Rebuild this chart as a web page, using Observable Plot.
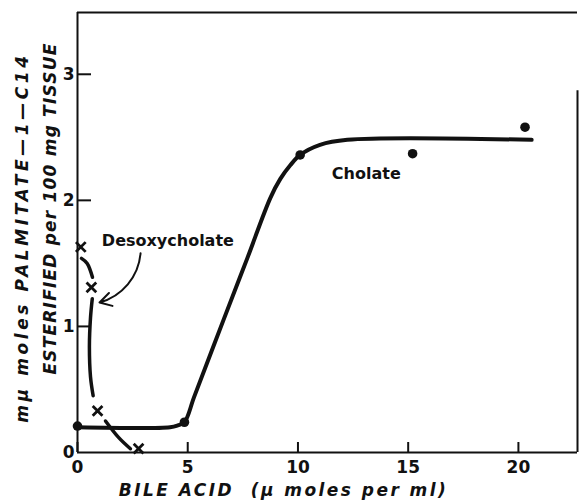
<!DOCTYPE html>
<html><head><meta charset="utf-8">
<script src="https://cdn.jsdelivr.net/npm/d3@7"></script>
<script src="https://cdn.jsdelivr.net/npm/@observablehq/plot@0.6"></script>
<style>body{margin:0;background:#fff}</style>
</head><body><div id="chart"></div>
<script>
// axis setup
const xDomain = [0, 22.68];
const yDomain = [0, 3.49];
const xTicks = [0, 5, 10, 15, 20];
const yTicks = [0, 1, 2, 3];
const rightEdgeTop = 2.87;

// Cholate: measured points
const cholateX = [0, 4.85, 10.1, 15.2, 20.3];
const cholateY = [0.21, 0.24, 2.36, 2.37, 2.58];
// Cholate: fitted curve (as drawn)
const cholateCurveX = [0, 4.2, 4.55, 4.85, 5.3, 6.62, 7.7, 8.75, 9.2, 9.66, 10.1, 11.0, 12.24, 20.6];
const cholateCurveY = [0.20, 0.20, 0.215, 0.24, 0.445, 1.05, 1.54, 2.02, 2.17, 2.28, 2.36, 2.44, 2.48, 2.48];

// Desoxycholate: measured points
const desoxX = [0.15, 0.63, 0.91, 2.77];
const desoxY = [1.63, 1.31, 0.33, 0.03];
// Desoxycholate: dashed fitted curve, three drawn pieces
const desoxSeg = [1, 1, 1, 2, 2, 2, 2, 2, 3, 3, 3];
const desoxCurveX = [0.18, 0.44, 0.68, 0.67, 0.59, 0.54, 0.59, 0.71, 1.27, 1.86, 2.40];
const desoxCurveY = [1.54, 1.50, 1.39, 1.22, 1.07, 0.84, 0.60, 0.45, 0.25, 0.12, 0.03];

// annotations
const labels = ["Desoxycholate", "Cholate"];
const labelX = [4.1, 13.1];
const labelY = [1.68, 2.21];
const arrowFrom = [2.86, 1.58];
const arrowTo = [1.0, 1.19];

const xLabel = "BILE ACID  (μ moles per ml)";
const yLabel1 = "mμ moles PALMITATE—1—C14";
const yLabel2 = "ESTERIFIED per 100 mg TISSUE";

const cholatePts = cholateX.map((x, i) => ({x, y: cholateY[i]}));
const cholateCurve = cholateCurveX.map((x, i) => ({x, y: cholateCurveY[i]}));
const desoxPts = desoxX.map((x, i) => ({x, y: desoxY[i]}));
const desoxCurve = desoxCurveX.map((x, i) => ({x, y: desoxCurveY[i], s: desoxSeg[i]}));
const notes = labels.map((t, i) => ({t, x: labelX[i], y: labelY[i]}));

const ink = "#111";
const font = "DejaVu Sans";
const titleStyle = {fontSize: 17, fontWeight: "bold", fontStyle: "italic", fill: ink, textAnchor: "middle", lineAnchor: "middle"};

const chart = Plot.plot({
  width: 582,
  height: 504,
  marginLeft: 77,
  marginRight: 5,
  marginTop: 12,
  marginBottom: 52,
  x: {domain: xDomain},
  y: {domain: yDomain},
  style: {fontFamily: font, color: ink, background: "#fff", overflow: "visible"},
  marks: [
    // frame
    Plot.ruleX([xDomain[0]], {stroke: ink, strokeWidth: 2}),
    Plot.ruleY([yDomain[0]], {stroke: ink, strokeWidth: 2}),
    Plot.ruleY([yDomain[1]], {stroke: ink, strokeWidth: 2}),
    Plot.ruleX([xDomain[1]], {y1: yDomain[0], y2: rightEdgeTop, stroke: ink, strokeWidth: 2}),
    // inward ticks
    Plot.axisX({ticks: xTicks, tickSize: -10, strokeWidth: 2, stroke: ink, fill: "none", label: null}),
    Plot.axisY({ticks: yTicks.filter(d => d > 0), tickSize: -14, strokeWidth: 2, stroke: ink, fill: "none", label: null}),
    // tick labels
    Plot.axisX({ticks: xTicks, tickFormat: d3.format("d"), tickSize: 0, tickPadding: 8, fontSize: 17, fontWeight: "bold", fill: ink, label: null}),
    Plot.axisY({ticks: yTicks, tickFormat: d3.format("d"), tickSize: 0, tickPadding: 3, fontSize: 17, fontWeight: "bold", fill: ink, label: null}),
    // cholate
    Plot.line(cholateCurve, {x: "x", y: "y", curve: "catmull-rom", stroke: ink, strokeWidth: 4}),
    Plot.dot(cholatePts, {x: "x", y: "y", r: 4.8, fill: ink}),
    // desoxycholate
    Plot.line(desoxCurve, {x: "x", y: "y", z: "s", curve: "catmull-rom", stroke: ink, strokeWidth: 3.5, strokeLinecap: "round"}),
    Plot.dot(desoxPts, {x: "x", y: "y", symbol: "times", r: 4.5, stroke: ink, strokeWidth: 2.8}),
    // annotations
    Plot.text(notes, {x: "x", y: "y", text: "t", fontSize: 16, fontWeight: "bold", fill: ink}),
    Plot.arrow([{}], {x1: () => arrowFrom[0], y1: () => arrowFrom[1], x2: () => arrowTo[0], y2: () => arrowTo[1], bend: 35, stroke: ink, strokeWidth: 2, headLength: 10}),
    // axis titles
    Plot.text([xLabel], {text: d => d, frameAnchor: "bottom", dx: -44, dy: 38, ...titleStyle}),
    Plot.text([yLabel1], {text: d => d, frameAnchor: "left", rotate: -90, dx: -55, dy: 5, ...titleStyle}),
    Plot.text([yLabel2], {text: d => d, frameAnchor: "left", rotate: -90, dx: -27, dy: -24, ...titleStyle})
  ]
});
// letter spacing for the hand-lettered axis titles
const spacing = new Map([[xLabel, "2.45px"], [yLabel1, "3.6px"], [yLabel2, "1.2px"]]);
d3.select(chart).selectAll("text").each(function() {
  const t = this.textContent;
  if (spacing.has(t)) this.style.letterSpacing = spacing.get(t);
});
document.getElementById("chart").append(chart);
</script>
</body></html>
